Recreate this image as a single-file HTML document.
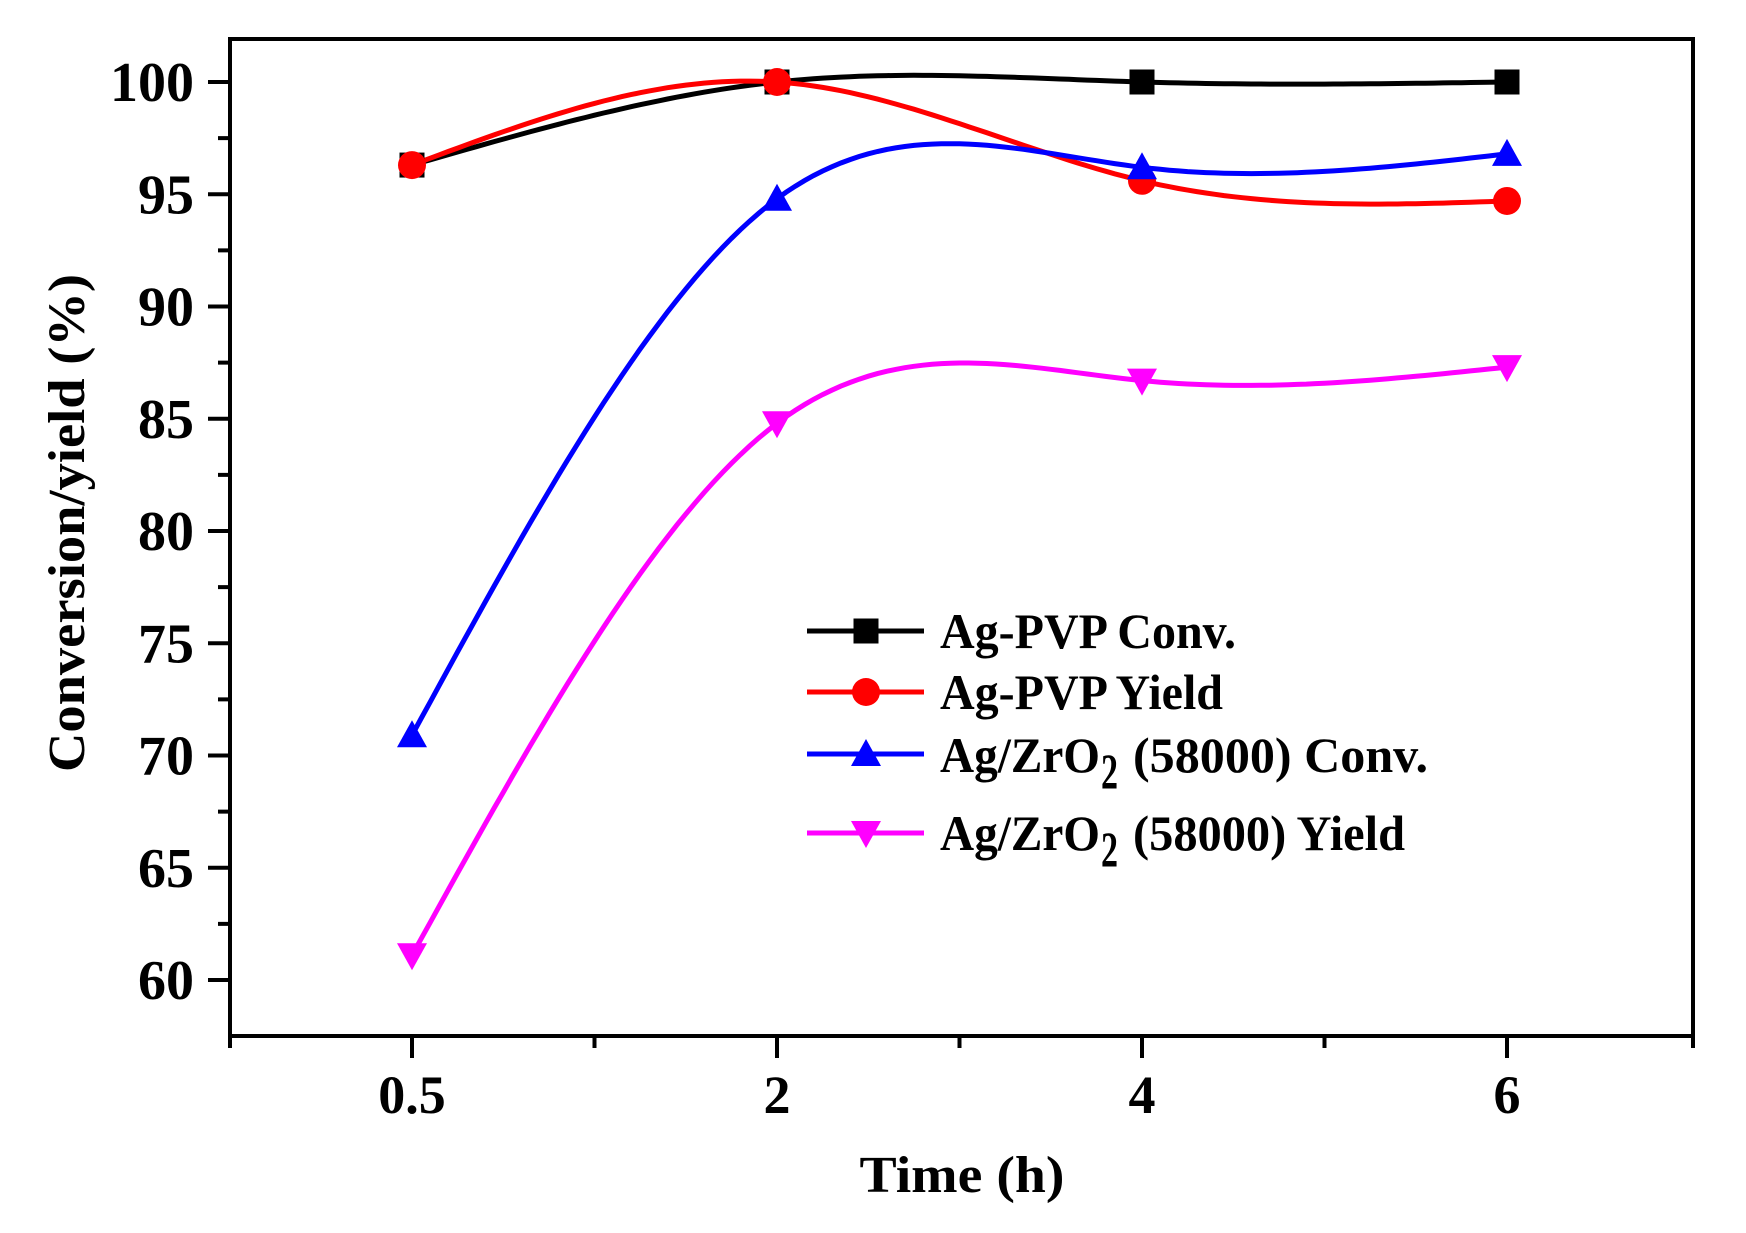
<!DOCTYPE html>
<html><head><meta charset="utf-8"><style>
html,body{margin:0;padding:0;background:#fff}
svg{display:block}
text{font-family:"Liberation Serif",serif;font-weight:bold;fill:#000}
</style></head><body>
<svg id="s" width="1746" height="1233" viewBox="0 0 1746 1233" xmlns="http://www.w3.org/2000/svg">
<rect x="230" y="39" width="1463" height="997" fill="none" stroke="#000" stroke-width="4"/>
<g id="ticks" stroke="#000" stroke-width="4"></g>
<g font-size="56" text-anchor="end" id="ylab"></g>
<g font-size="54" text-anchor="middle">
<text x="412" y="1113">0.5</text>
<text x="777" y="1113">2</text>
<text x="1142" y="1113">4</text>
<text x="1507" y="1113">6</text>
</g>
<text x="962" y="1192" font-size="52" text-anchor="middle" textLength="205" lengthAdjust="spacingAndGlyphs">Time (h)</text>
<text transform="translate(84,523) rotate(-90)" font-size="52" text-anchor="middle" textLength="498" lengthAdjust="spacingAndGlyphs">Conversion/yield (%)</text>
<g id="series" fill="none" stroke-width="5"></g>
<g id="legend"></g>
</svg>
<script>
var NS="http://www.w3.org/2000/svg";
function el(t,a,p){var e=document.createElementNS(NS,t);for(var k in a)e.setAttribute(k,a[k]);(p||document.getElementById('s')).appendChild(e);return e;}
var Y=function(v){return 82+(100-v)*22.45;};
var T=document.getElementById('ticks');
for(var v=60;v<=100;v+=2.5){var y=Y(v);var maj=(v%5==0);el('line',{x1:maj?208:218,x2:230,y1:y,y2:y},T);}
var YL=document.getElementById('ylab');
for(var v=60;v<=100;v+=5){var t=el('text',{x:194,y:Y(v)+19},YL);t.textContent=v;}
var xs=[412,777,1142,1507];
for(var i=0;i<xs.length;i++){el('line',{x1:xs[i],x2:xs[i],y1:1036,y2:1058},T);}
[230,594.5,959.5,1324.5,1693].forEach(function(x){el('line',{x1:x,x2:x,y1:1036,y2:1048},T);});
function spline(px,py){var n=px.length,h=[],a=[],l=[1],mu=[0],z=[0],c=new Array(n).fill(0),b=[],d=[];
for(var i=0;i<n-1;i++)h[i]=px[i+1]-px[i];
for(var i=1;i<n-1;i++)a[i]=3/h[i]*(py[i+1]-py[i])-3/h[i-1]*(py[i]-py[i-1]);
for(var i=1;i<n-1;i++){l[i]=2*(px[i+1]-px[i-1])-h[i-1]*mu[i-1];mu[i]=h[i]/l[i];z[i]=(a[i]-h[i-1]*z[i-1])/l[i];}
for(var j=n-2;j>=0;j--){c[j]=z[j]-mu[j]*c[j+1];b[j]=(py[j+1]-py[j])/h[j]-h[j]*(c[j+1]+2*c[j])/3;d[j]=(c[j+1]-c[j])/(3*h[j]);}
var s="M"+px[0]+","+py[0];
for(var j=0;j<n-1;j++){for(var k=1;k<=40;k++){var dx=h[j]*k/40;var yy=py[j]+b[j]*dx+c[j]*dx*dx+d[j]*dx*dx*dx;s+=" L"+(px[j]+dx).toFixed(1)+","+yy.toFixed(1);}}
return s;}
var S=document.getElementById('series');
var data=[
{c:"#000",v:[96.3,100,100,100],m:"sq"},
{c:"#ff0000",v:[96.3,100,95.6,94.7],m:"ci"},
{c:"#0000ff",v:[70.9,94.8,96.2,96.8],m:"up"},
{c:"#ff00ff",v:[61.1,84.8,86.7,87.3],m:"dn"}];
function marker(m,x,y,c,p){
if(m=="sq")el('rect',{x:x-12.5,y:y-12.5,width:25,height:25,fill:c},p);
else if(m=="ci")el('circle',{cx:x,cy:y,r:14,fill:c},p);
else if(m=="up")el('polygon',{points:(x-15)+","+(y+12)+" "+(x+15)+","+(y+12)+" "+x+","+(y-15),fill:c},p);
else el('polygon',{points:(x-15)+","+(y-12)+" "+(x+15)+","+(y-12)+" "+x+","+(y+15),fill:c},p);}
data.forEach(function(d){el('path',{d:spline(xs,d.v.map(Y)),stroke:d.c},S);});
data.forEach(function(d){d.v.forEach(function(v,i){marker(d.m,xs[i],Y(v),d.c,S);});});
var L=document.getElementById('legend');
var ly=[631,692,754,833];
data.forEach(function(d,i){el('line',{x1:807,x2:924,y1:ly[i],y2:ly[i],stroke:d.c,'stroke-width':5},L);marker(d.m,866,ly[i],d.c,L);});
function txt(x,y,s,w){var t=el('text',{x:x,y:y,'font-size':50,textLength:w,lengthAdjust:'spacingAndGlyphs'},L);t.textContent=s;return t;}
txt(940,648,"Ag-PVP Conv.",296);
txt(940,709,"Ag-PVP Yield",283);
txt(940,772,"Ag/ZrO",160);txt(1101,788,"2",17);txt(1133,772,"(58000)  Conv.",295);
txt(940,850,"Ag/ZrO",160);txt(1101,866,"2",17);txt(1133,850,"(58000) Yield",272);
</script>
</body></html>
